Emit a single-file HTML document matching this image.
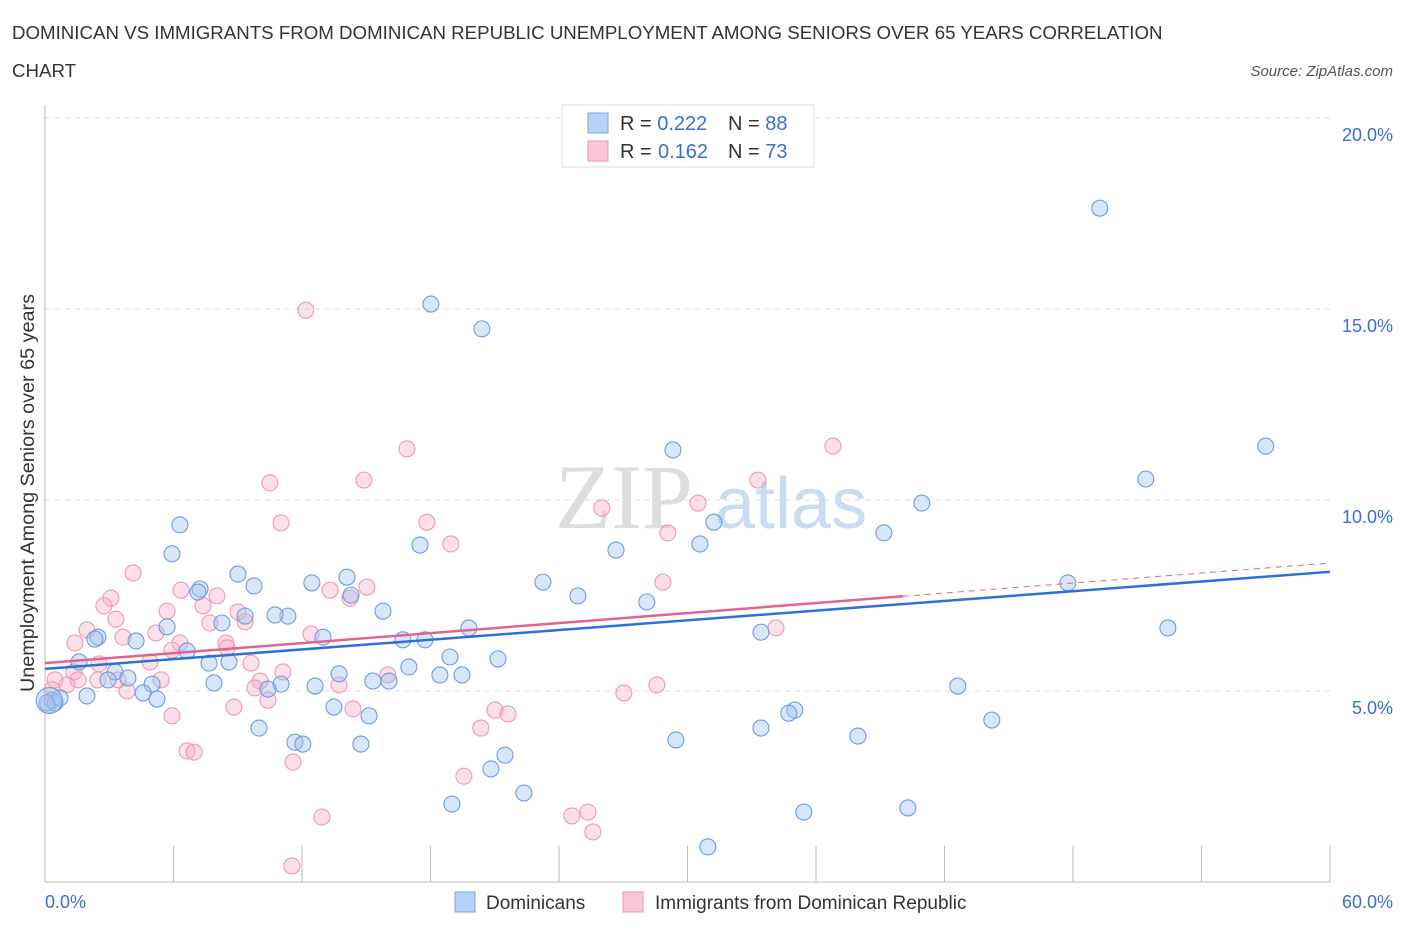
<!DOCTYPE html>
<html><head><meta charset="utf-8"><style>
body{margin:0;background:#fff;font-family:"Liberation Sans",sans-serif;}
svg{display:block}
</style></head><body>
<svg id="c" width="1406" height="930" xmlns="http://www.w3.org/2000/svg" font-family="Liberation Sans, sans-serif">
<text x="12" y="39" font-size="18.7" fill="#333">DOMINICAN VS IMMIGRANTS FROM DOMINICAN REPUBLIC UNEMPLOYMENT AMONG SENIORS OVER 65 YEARS CORRELATION</text>
<text x="12" y="77" font-size="18.7" fill="#333">CHART</text>
<text x="1393" y="76" font-size="15" fill="#555" font-style="italic" text-anchor="end">Source: ZipAtlas.com</text>
<g>
<text x="555" y="528" font-size="92" fill="#ddd" font-family="Liberation Serif, serif">ZIP</text>
<text x="715" y="528" font-size="72" fill="#c9dcf2">atlas</text>
</g>
<g id="grid"></g><g id="axes"></g><g id="marks"></g>
<text transform="translate(34,493) rotate(-90)" font-size="19.8" fill="#333" text-anchor="middle">Unemployment Among Seniors over 65 years</text>
<g>
<rect x="562" y="105" width="252" height="62" fill="#fff" stroke="#ddd"/>
<rect x="588" y="113" width="20" height="20" fill="#b8d2f5" stroke="#7aa6e4"/>
<rect x="588" y="141" width="20" height="20" fill="#fbc6d6" stroke="#eb9ab4"/>
<text x="620" y="130" font-size="20" fill="#333">R = <tspan fill="#3a6fd0">0.222</tspan><tspan x="728">N = </tspan><tspan fill="#3a6fd0">88</tspan></text>
<text x="620" y="158" font-size="20" fill="#333">R = <tspan x="658" fill="#3a6fd0">0.162</tspan><tspan x="728">N = </tspan><tspan fill="#3a6fd0">73</tspan></text>
</g>
<g>
<rect x="455" y="892" width="20" height="20" fill="#b8d2f5" stroke="#7aa6e4"/>
<text x="486" y="909" font-size="19" fill="#333">Dominicans</text>
<rect x="623" y="892" width="20" height="20" fill="#fbc6d6" stroke="#eb9ab4"/>
<text x="655" y="909" font-size="19" fill="#333">Immigrants from Dominican Republic</text>
</g>
</svg>
<script>
const yTicks=[5,10,15,20];
const yTickLabels=["5.0%","10.0%","15.0%","20.0%"];
const xTickLabels=["0.0%","60.0%"];
const blueX=[49.25,18.02,20.40,57.0,29.32,51.4,40.94,31.23,6.30,39.17,17.51,30.58,26.66,5.93,9.01,14.10,12.46,23.25,9.76,7.24,7.14,14.29,24.88,28.10,15.78,11.34,9.34,10.74,8.26,5.70,19.79,52.43,33.43,2.47,12.98,2.33,4.25,16.71,17.74,6.63,1.59,21.15,18.91,7.66,8.59,16.99,3.27,13.73,47.76,3.87,2.94,5.00,7.89,15.31,16.06,18.44,19.47,12.61,11.02,10.41,42.62,4.58,1.96,5.23,0.33,0.47,13.49,35.01,34.73,15.13,44.21,9.99,33.43,37.96,11.67,12.04,14.75,29.46,21.48,20.82,22.36,19.00,40.29,35.43,30.95,0.09,0.70,0.2];
const blueY=[17.64,15.13,14.48,11.41,11.31,10.55,9.92,9.42,9.35,9.14,8.82,8.85,8.69,8.59,8.06,7.98,7.83,7.85,7.75,7.67,7.59,7.51,7.49,7.33,7.09,6.96,6.96,6.99,6.78,6.68,6.65,6.65,6.54,6.41,6.41,6.36,6.31,6.34,6.34,6.05,5.76,5.84,5.89,5.73,5.76,5.63,5.50,5.45,7.83,5.34,5.29,5.18,5.21,5.26,5.26,5.42,5.42,5.13,5.18,5.05,5.13,4.95,4.87,4.79,4.76,4.69,4.58,4.50,4.42,4.35,4.24,4.03,4.03,3.82,3.66,3.61,3.61,3.72,3.32,2.96,2.33,2.04,1.94,1.83,0.92,4.69,4.82,4.75];
const pinkX=[12.18,36.79,16.90,14.89,10.50,33.29,30.49,26.0,11.02,17.83,29.08,18.95,4.11,6.35,28.85,13.31,15.03,3.08,8.03,5.70,2.75,3.31,9.01,7.38,9.34,14.24,7.70,1.96,3.64,5.18,12.42,34.13,1.40,6.30,8.45,8.50,5.93,4.90,2.52,9.62,11.11,16.01,10.04,9.80,13.73,1.35,0.47,1.54,1.03,2.47,3.41,5.42,3.83,28.57,27.03,10.41,8.82,14.38,21.01,21.62,5.93,20.35,6.63,6.96,11.58,19.56,25.35,24.60,25.58,12.93,11.53,0.14,0.33];
const pinkY=[14.97,11.41,11.34,10.52,10.45,10.52,9.92,9.79,9.40,9.42,9.14,8.85,8.09,7.64,7.85,7.64,7.72,7.43,7.49,7.09,7.23,6.88,7.07,7.23,6.81,7.43,6.78,6.60,6.41,6.52,6.49,6.65,6.26,6.26,6.26,6.13,6.07,5.76,5.71,5.73,5.50,5.42,5.26,5.08,5.16,5.50,5.29,5.29,5.16,5.29,5.29,5.29,5.0,5.16,4.95,4.76,4.58,4.53,4.50,4.40,4.35,4.03,3.43,3.40,3.14,2.77,1.83,1.73,1.31,1.70,0.42,4.63,5.03];
const blueLine=[5.58,8.12];
const pinkLine=[5.73,8.35];
const pinkSolidEnd=40.06;
const NS="http://www.w3.org/2000/svg";
const X=v=>45+v/60*1285, Y=v=>882-v/5*191;
function mk(tag,attrs,parent){const e=document.createElementNS(NS,tag);for(const k in attrs)e.setAttribute(k,attrs[k]);parent.appendChild(e);return e;}
const grid=document.getElementById('grid'),axes=document.getElementById('axes'),marks=document.getElementById('marks');
yTicks.forEach((t,i)=>{
 const l=mk('line',{x1:45,x2:1330,y1:Y(t),y2:Y(t),stroke:'#ddd','stroke-dasharray':'5,5'},grid);
 
 
 const tx=mk('text',{x:1393,y:Y(t)+23,'font-size':18,fill:'#3a6fd0','text-anchor':'end'},axes);
 tx.textContent=yTickLabels[i];
 
 
});
const ya=mk('line',{x1:45,x2:45,y1:105,y2:882,stroke:'#bbb'},axes);


const xa=mk('line',{x1:45,x2:1330,y1:882,y2:882,stroke:'#bbb'},axes);


for(let k=1;k<=10;k++){const v=k*6;const t=mk('line',{x1:X(v),x2:X(v),y1:846,y2:882,stroke:'#bbb'},axes);
 
 }
const xl0=mk('text',{x:45,y:908,'font-size':18,fill:'#3a6fd0'},axes);xl0.textContent=xTickLabels[0];


const xl1=mk('text',{x:1393,y:908,'font-size':18,fill:'#3a6fd0','text-anchor':'end'},axes);xl1.textContent=xTickLabels[1];


pinkX.forEach((x,i)=>{const c=mk('circle',{cx:X(x),cy:Y(pinkY[i]),r:8,fill:'rgba(246,170,196,0.38)',stroke:'#eb9ab4','stroke-width':1.1},marks);
 
 });
blueX.forEach((x,i)=>{const c=mk('circle',{cx:X(x),cy:Y(blueY[i]),r:i==blueX.length-1?13:8,fill:'rgba(160,195,240,0.42)',stroke:'#6e9be0','stroke-width':1.1},marks);
 
 });
const bl=mk('line',{x1:X(0),y1:Y(blueLine[0]),x2:X(60),y2:Y(blueLine[1]),stroke:'#2f6fd6','stroke-width':2.5},marks);


const pe=pinkLine[0]+(pinkLine[1]-pinkLine[0])*pinkSolidEnd/60;
const pl=mk('line',{x1:X(0),y1:Y(pinkLine[0]),x2:X(pinkSolidEnd),y2:Y(pe),stroke:'#e0648f','stroke-width':2.5},marks);


const pd=mk('line',{x1:X(pinkSolidEnd),y1:Y(pe),x2:X(60),y2:Y(pinkLine[1]),stroke:'#e0648f','stroke-width':1,'stroke-dasharray':'6,5'},marks);


</script>
</body></html>
